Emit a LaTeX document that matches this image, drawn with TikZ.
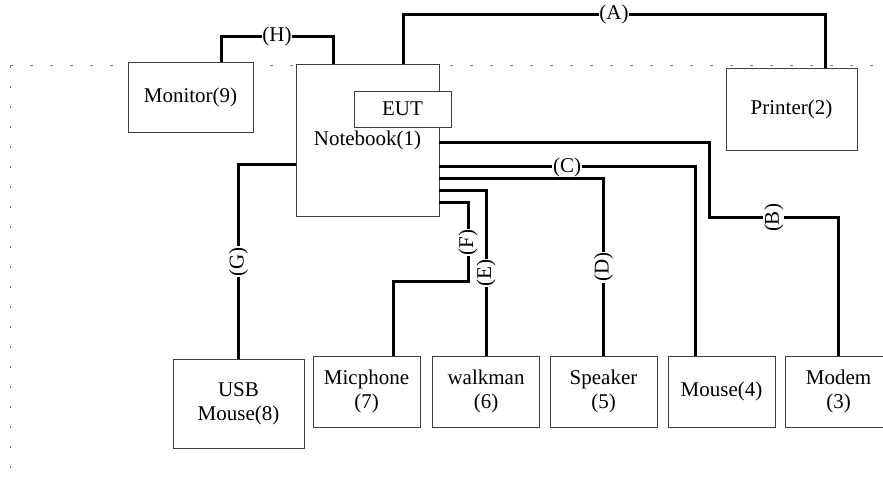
\documentclass[tikz,border=0pt]{standalone}
\usepackage{fontspec}
\setmainfont{Liberation Serif}
\begin{document}
\begin{tikzpicture}[x=1pt,y=-1pt,
  dev/.style={draw=black!75,line width=0.9pt,fill=white,align=center,inner sep=0pt,font=\fontsize{21}{24}\selectfont},
  unit/.style={dev,minimum width=107pt,minimum height=71pt},
  cable/.style={line width=3pt},
  lbl/.style={fill=white,inner sep=0.8pt,font=\fontsize{21}{24}\selectfont}]
  \useasboundingbox (0,0) rectangle (883,478);

  % 测试区域边界
  \draw[gray,line width=1pt,dash pattern=on 3pt off 17pt] (10,66) -- (883,66);
  \draw[gray,line width=1pt,dash pattern=on 2pt off 18pt] (10,66) -- (10,478);

  % 主机与外设
  \node[dev,minimum width=125pt,minimum height=70pt] (mon) at (190.5,97) {Monitor(9)};
  \node[dev,minimum width=143pt,minimum height=152pt] (nb) at (367.5,140) {Notebook(1)};
  \node[dev,minimum width=97pt,minimum height=36pt] (eut) at (402.5,109) {EUT};
  \node[dev,minimum width=131pt,minimum height=82pt] (prn) at (791.5,109) {Printer(2)};

  % 下排设备
  \node[dev,minimum width=131pt,minimum height=89pt] (usb) at (238.5,403.5) {USB\\Mouse(8)};
  \node[unit] (mic) at (366.5,391.5) {Micphone\\(7)};
  \node[unit] (wlk) at (486,391.5) {walkman\\(6)};
  \node[unit] (spk) at (603.5,391.5) {Speaker\\(5)};
  \node[unit] (mou) at (721.5,391.5) {Mouse(4)};
  \node[unit] (mod) at (838.5,391.5) {Modem\\(3)};

  % 线缆
  \draw[cable] ([xshift=30.5pt]mon.north) -- ++(0,-25) -| node[lbl,pos=0.25] {(H)} ([xshift=-34.5pt]nb.north);
  \draw[cable] ([xshift=35.5pt]nb.north) -- ++(0,-49) -| node[lbl,pos=0.25] {(A)} ([xshift=33.5pt]prn.north);
  \draw[cable] (nb.east |- 0,143) -| (709,218) -| node[lbl,rotate=90,pos=0.25] {(B)} (mod.north);
  \draw[cable] (nb.east |- 0,179) -| node[lbl,rotate=90,pos=0.75] {(D)} (spk.north);
  \draw[cable] (nb.east |- 0,191) -| node[lbl,rotate=90,pos=0.75] {(E)} (wlk.north);
  \draw[cable] (nb.east |- 0,203) -| node[lbl,rotate=90,pos=0.75] {(F)} (468,282) -| ([xshift=26.5pt]mic.north);
  \draw[cable] (nb.west |- 0,165) -| node[lbl,rotate=90,pos=0.75] {(G)} (usb.north);
  \draw[cable] (nb.east |- 0,167) -| node[lbl,pos=0.25] {(C)} ([xshift=-26.5pt]mou.north);
\end{tikzpicture}
\end{document}
